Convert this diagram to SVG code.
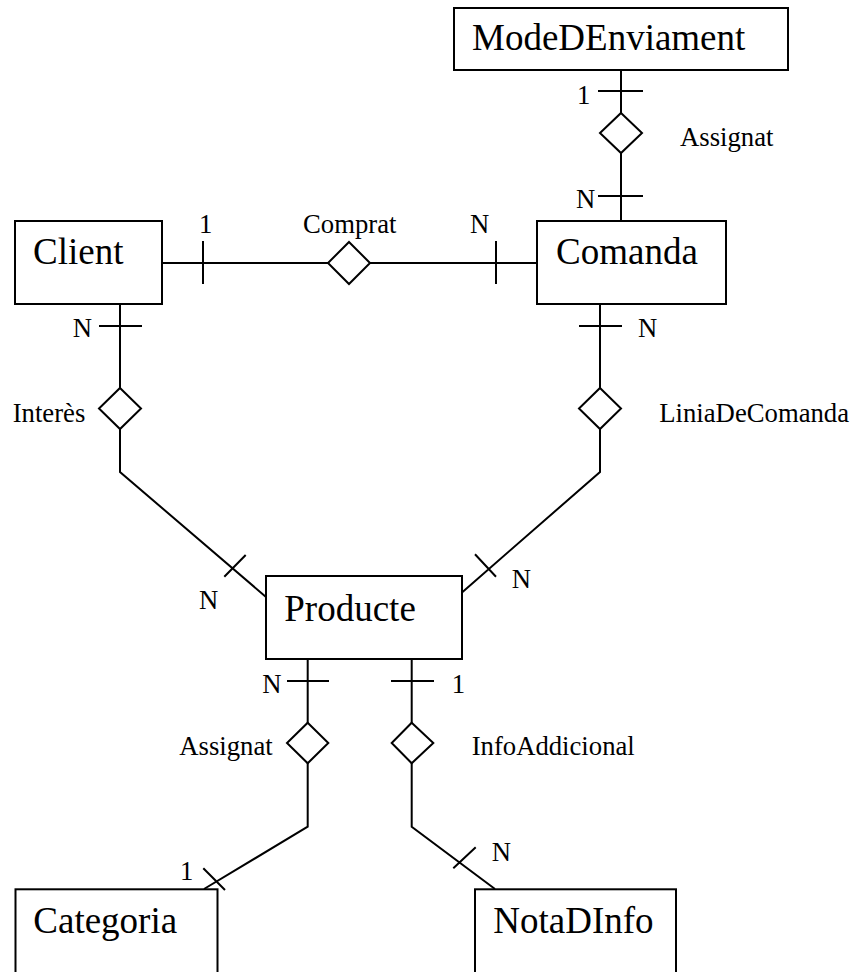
<svg xmlns="http://www.w3.org/2000/svg" width="854" height="972" viewBox="0 0 854 972">
<style>
.ent{fill:#fff;stroke:#000;stroke-width:2}
.et{font-family:"Liberation Serif","Times New Roman",serif;font-size:37px;fill:#000}
.lb{font-family:"Liberation Serif","Times New Roman",serif;font-size:26.7px;fill:#000}
.ln{fill:none;stroke:#000;stroke-width:2}
.dm{fill:#fff;stroke:#000;stroke-width:2}
</style>
<rect width="854" height="972" fill="#fff"/>
<g id="connectors">
  <!-- ModeDEnviament - Comanda -->
  <path class="ln" d="M621,70 V221 M598,91 H643 M598,196 H643"/>
  <!-- Client - Comanda -->
  <path class="ln" d="M162,263 H537 M203,241 V284 M496,241 V284"/>
  <!-- Client - Producte -->
  <path class="ln" d="M120,304 V472 L266,597 M99,326 H142 M224.3,576.7 L245.7,555"/>
  <!-- Comanda - Producte -->
  <path class="ln" d="M600,304 V472 L461.7,592.7 M579,326 H622 M475,554.3 L496,576.7"/>
  <!-- Producte - Categoria -->
  <path class="ln" d="M307.7,659 V826.7 L204,889 M287,681 H329 M203.3,868.3 L225,890"/>
  <!-- Producte - NotaDInfo -->
  <path class="ln" d="M411.7,659 V826.7 L495,889 M391,681 H434 M453.3,868.3 L475.7,847.3"/>
</g>
<g id="rel-assignat-mode">
  <polygon class="dm" points="621,113 642,133 621,153 600,133"/>
  <text class="lb" x="680" y="146">Assignat</text>
  <text class="lb" x="577" y="104">1</text>
  <text class="lb" x="576" y="208">N</text>
</g>
<g id="rel-comprat">
  <polygon class="dm" points="349,242 370,263 349,284 328,263"/>
  <text class="lb" x="303" y="233">Comprat</text>
  <text class="lb" x="199" y="233">1</text>
  <text class="lb" x="470" y="233">N</text>
</g>
<g id="rel-interes">
  <polygon class="dm" points="120,388 141,408.5 120,429 99,408.5"/>
  <text class="lb" x="12.7" y="421.7">Interès</text>
  <text class="lb" x="72.7" y="337">N</text>
  <text class="lb" x="199" y="609">N</text>
</g>
<g id="rel-liniadecomanda">
  <polygon class="dm" points="600,388 621,408.5 600,429 579,408.5"/>
  <text class="lb" x="659.3" y="421.7">LiniaDeComanda</text>
  <text class="lb" x="638" y="337">N</text>
  <text class="lb" x="511.7" y="588.3">N</text>
</g>
<g id="rel-assignat-cat">
  <polygon class="dm" points="307.7,722.7 328.3,743 307.7,763.3 287,743"/>
  <text class="lb" x="179.3" y="755">Assignat</text>
  <text class="lb" x="262.3" y="692.7">N</text>
  <text class="lb" x="180" y="880">1</text>
</g>
<g id="rel-infoaddicional">
  <polygon class="dm" points="411.7,722.7 433.3,743 411.7,763.3 391.7,743"/>
  <text class="lb" x="471.7" y="755">InfoAddicional</text>
  <text class="lb" x="451.7" y="692.7">1</text>
  <text class="lb" x="491.7" y="860.7">N</text>
</g>
<g id="ModeDEnviament">
  <rect class="ent" x="454" y="8" width="334" height="62"/>
  <text class="et" x="472" y="50">ModeDEnviament</text>
</g>
<g id="Client">
  <rect class="ent" x="15" y="221" width="147" height="83"/>
  <text class="et" x="33" y="264">Client</text>
</g>
<g id="Comanda">
  <rect class="ent" x="537" y="221" width="189" height="83"/>
  <text class="et" x="556" y="264">Comanda</text>
</g>
<g id="Producte">
  <rect class="ent" x="266" y="576" width="196" height="83"/>
  <text class="et" x="284.3" y="620.7">Producte</text>
</g>
<g id="Categoria">
  <rect class="ent" x="15.5" y="889.3" width="202" height="100"/>
  <text class="et" x="33.3" y="933.3">Categoria</text>
</g>
<g id="NotaDInfo">
  <rect class="ent" x="475" y="889.3" width="201" height="100"/>
  <text class="et" x="493.3" y="933.3">NotaDInfo</text>
</g>
</svg>
